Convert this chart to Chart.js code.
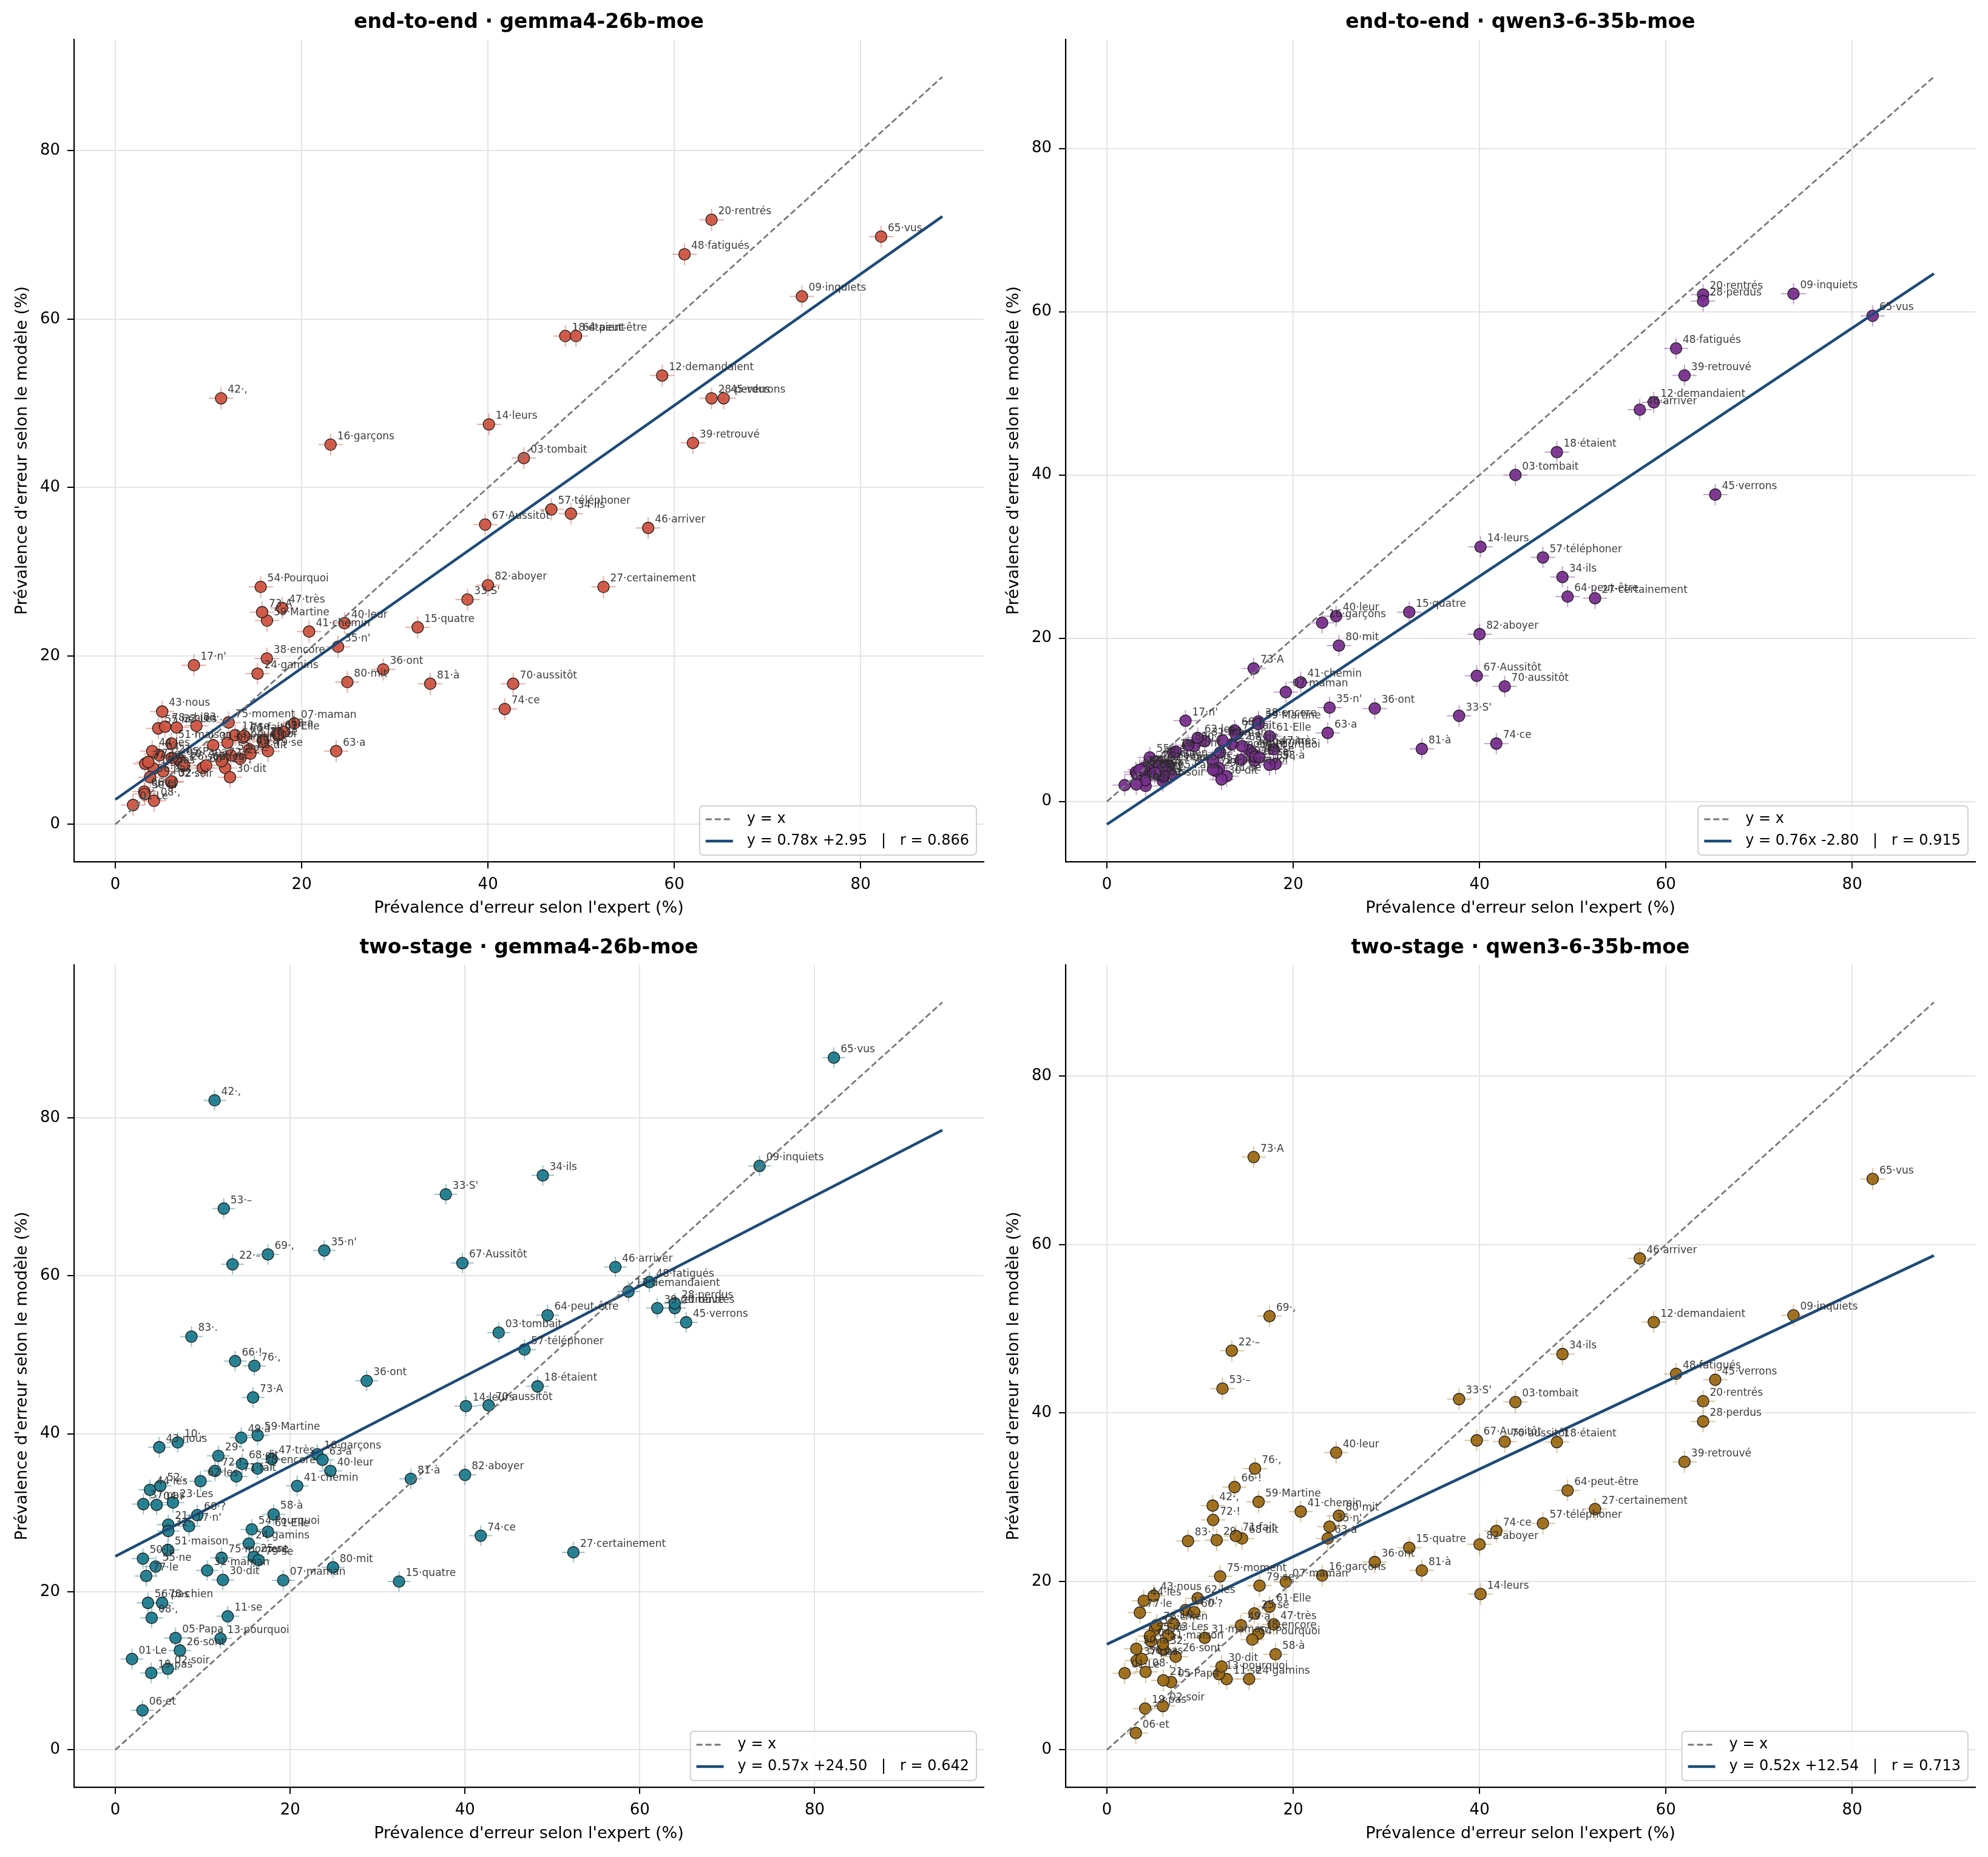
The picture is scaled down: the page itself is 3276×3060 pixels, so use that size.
<!DOCTYPE html>
<html>
<head>
<meta charset="utf-8">
<script src="https://cdn.jsdelivr.net/npm/chart.js@4.4.1/dist/chart.umd.min.js"></script>
<style>
  html, body { margin: 0; padding: 0; background: #fff; }
  #wrap { position: relative; width: 3276px; height: 3060px; }
  .panel { position: absolute; width: 1638px; height: 1530px; }
</style>
</head>
<body>
<div id="wrap">
  <div class="panel" style="left:0;top:0"><canvas id="c0" width="1638" height="1530"></canvas></div>
  <div class="panel" style="left:1634px;top:0"><canvas id="c1" width="1638" height="1530"></canvas></div>
  <div class="panel" style="left:0;top:1525px"><canvas id="c2" width="1638" height="1530"></canvas></div>
  <div class="panel" style="left:1634px;top:1525px"><canvas id="c3" width="1638" height="1530"></canvas></div>
</div>
<script>
// Tokens of the passage (index = position in the text)
const WORDS = ['Le', 'soir', 'tombait', '.', 'Papa', 'et', 'maman', ',', 'inquiets', ',',
  'se', 'demandaient', 'pourquoi', 'leurs', 'quatre', 'garçons', "n'", 'étaient', 'pas', 'rentrés',
  '.', '–', 'Les', 'gamins', 'se', 'sont', 'certainement', 'perdus', ',', 'dit',
  'maman', '.', "S'", 'ils', "n'", 'ont', 'pas', 'encore', 'retrouvé', 'leur',
  'chemin', ',', 'nous', 'les', 'verrons', 'arriver', 'très', 'fatigués', 'à', 'la',
  'maison', '.', '–', 'Pourquoi', 'ne', 'pas', 'téléphoner', 'à', 'Martine', '?',
  'Elle', 'les', 'a', 'peut-être', 'vus', '!', 'Aussitôt', 'dit', ',', 'aussitôt',
  'fait', '!', 'A', 'ce', 'moment', ',', 'le', 'chien', 'se', 'mit',
  'à', 'aboyer', '.'];

// Expert error prevalence (%), shared x values
const EXPERT = [1.9, 6.0, 43.85, 4.72, 6.88, 3.1, 19.2, 4.15, 73.7, 7.13,
  12.85, 58.7, 12.03, 40.1, 32.45, 23.1, 8.43, 48.3, 4.1, 64.0,
  6.05, 13.4, 6.58, 15.26, 15.83, 7.38, 52.4, 64.0, 11.78, 12.3,
  10.5, 6.05, 37.8, 48.9, 23.9, 28.75, 3.2, 16.26, 62.0, 24.6,
  20.8, 11.35, 5.02, 3.95, 65.3, 57.2, 17.9, 61.1, 14.39, 3.15,
  6.01, 5.14, 12.4, 15.6, 4.6, 3.73, 46.8, 18.1, 16.28, 9.37,
  17.45, 9.74, 23.7, 49.45, 82.2, 13.7, 39.7, 14.5, 17.45, 42.7,
  13.84, 11.4, 15.75, 41.8, 12.15, 15.9, 3.53, 5.34, 16.38, 24.9,
  33.8, 40.0, 8.7];

// Model error prevalence (%), one list per panel
const E2E_GEMMA = [2.3, 5.0, 43.5, 8.2, 7.6, 3.9, 12.0, 2.8, 62.7, 7.3,
  10.6, 53.3, 9.7, 47.5, 23.4, 45.1, 18.9, 58.0, 6.6, 71.8,
  7.9, 7.8, 11.5, 17.9, 10.0, 7.0, 28.2, 50.6, 6.7, 5.6,
  9.4, 5.1, 26.7, 36.9, 21.1, 18.4, 7.2, 19.7, 45.3, 23.9,
  22.9, 50.6, 13.4, 8.7, 50.6, 35.2, 25.7, 67.7, 8.9, 3.6,
  9.6, 6.3, 8.2, 28.2, 11.4, 5.6, 37.4, 11.0, 24.2, 6.7,
  10.6, 7.0, 8.7, 58.0, 69.8, 10.3, 35.6, 8.4, 10.8, 16.7,
  10.5, 7.5, 25.2, 13.7, 12.1, 9.8, 7.4, 11.6, 8.7, 16.9,
  16.7, 28.4, 11.7];

const E2E_QWEN = [2.0, 2.5, 40.0, 4.0, 3.4, 3.6, 13.4, 1.9, 62.2, 6.0,
  3.1, 48.9, 4.1, 31.2, 23.2, 21.9, 9.9, 42.8, 2.6, 62.1,
  3.0, 7.0, 4.4, 6.3, 5.0, 6.1, 24.9, 61.3, 3.7, 2.7,
  7.4, 3.2, 10.5, 27.5, 11.5, 11.4, 3.3, 9.8, 52.2, 22.7,
  14.6, 5.0, 4.6, 4.1, 37.6, 48.0, 6.4, 55.5, 5.1, 2.1,
  4.4, 3.5, 7.5, 5.9, 5.4, 3.8, 29.9, 4.6, 9.5, 6.8,
  8.0, 7.8, 8.4, 25.1, 59.5, 8.7, 15.4, 6.8, 4.5, 14.1,
  8.2, 3.9, 16.3, 7.1, 6.0, 5.5, 3.9, 4.9, 5.4, 19.1,
  6.45, 20.5, 6.9];

const TWO_GEMMA = [11.5, 10.25, 52.8, 31.0, 14.16, 5.0, 21.45, 16.7, 73.9, 38.9,
  16.9, 58.0, 14.1, 43.5, 21.3, 37.4, 28.3, 46.0, 9.73, 55.9,
  28.5, 61.45, 31.3, 26.1, 24.4, 12.57, 25.0, 56.5, 37.2, 21.5,
  22.7, 27.7, 70.3, 72.7, 63.2, 46.7, 31.1, 35.6, 55.9, 35.3,
  33.4, 82.2, 38.3, 32.9, 54.1, 61.1, 36.8, 59.2, 39.5, 24.2,
  25.3, 33.4, 68.5, 27.9, 23.2, 18.6, 50.65, 29.8, 39.8, 29.7,
  27.6, 34.0, 36.7, 55.0, 87.6, 49.2, 61.6, 36.2, 62.7, 43.6,
  34.6, 35.3, 44.6, 27.1, 24.3, 48.6, 22.0, 18.6, 24.0, 23.1,
  34.3, 34.8, 52.3];

const TWO_QWEN = [9.1, 5.2, 41.3, 12.9, 8.05, 2.0, 19.95, 9.25, 51.6, 15.0,
  8.4, 50.8, 9.0, 18.5, 24.0, 20.7, 16.6, 36.55, 4.9, 41.4,
  8.25, 47.4, 13.6, 8.4, 16.2, 11.06, 28.6, 39.0, 24.9, 9.9,
  13.3, 11.9, 41.65, 47.0, 26.5, 22.3, 10.6, 13.8, 34.2, 35.3,
  28.3, 29.0, 18.3, 17.7, 43.95, 58.35, 14.9, 44.65, 14.8, 12.0,
  12.6, 14.3, 42.9, 13.1, 13.5, 10.8, 26.9, 11.35, 29.45, 16.35,
  17.0, 18.0, 25.1, 30.8, 67.8, 31.2, 36.75, 25.1, 51.5, 36.6,
  25.4, 27.3, 70.4, 26.0, 20.6, 33.4, 16.3, 14.8, 19.5, 27.8,
  21.3, 24.4, 24.8];

const TITLES = ['end-to-end · gemma4-26b-moe', 'end-to-end · qwen3-6-35b-moe',
  'two-stage · gemma4-26b-moe', 'two-stage · qwen3-6-35b-moe'];
const SLOPES = [0.78, 0.76, 0.57, 0.52];
const INTERCEPTS = [2.95, -2.80, 24.50, 12.54];
const R_VALUES = [0.866, 0.915, 0.642, 0.713];
const TICKS = [0, 20, 40, 60, 80];

const X_TITLE = "Prévalence d'erreur selon l'expert (%)";
const Y_TITLE = "Prévalence d'erreur selon le modèle (%)";

const FONT = "'DejaVu Sans', 'Liberation Sans', sans-serif";
const PANEL_Y = [E2E_GEMMA, E2E_QWEN, TWO_GEMMA, TWO_QWEN];
const FILLS = ['rgba(204,82,62,0.93)', 'rgba(118,44,140,0.93)', 'rgba(26,122,140,0.93)', 'rgba(154,103,16,0.93)'];
const ERR_COLORS = ['rgba(214,110,95,0.55)', 'rgba(150,90,170,0.55)', 'rgba(70,150,165,0.55)', 'rgba(190,150,80,0.55)'];
const ERR = 1.3; // half length of the error cross, style only

const labels = WORDS.map((w, i) => String(i + 1).padStart(2, '0') + '·' + w);

const decoPlugin = {
  id: 'deco',
  beforeDatasetsDraw(chart) {
    const o = chart.options.plugins.deco;
    const { ctx, chartArea } = chart;
    const sx = chart.scales.x, sy = chart.scales.y;
    ctx.save();
    ctx.beginPath();
    ctx.rect(chartArea.left, chartArea.top, chartArea.right - chartArea.left, chartArea.bottom - chartArea.top);
    ctx.clip();
    ctx.strokeStyle = o.errColor;
    ctx.lineWidth = 2;
    EXPERT.forEach((xv, i) => {
      const yv = o.ys[i];
      const px = sx.getPixelForValue(xv), py = sy.getPixelForValue(yv);
      ctx.beginPath();
      ctx.moveTo(sx.getPixelForValue(xv - ERR), py);
      ctx.lineTo(sx.getPixelForValue(xv + ERR), py);
      ctx.moveTo(px, sy.getPixelForValue(yv - ERR));
      ctx.lineTo(px, sy.getPixelForValue(yv + ERR));
      ctx.stroke();
    });
    ctx.restore();
  },
  afterDatasetsDraw(chart) {
    const o = chart.options.plugins.deco;
    const { ctx } = chart;
    const sx = chart.scales.x, sy = chart.scales.y;
    ctx.save();
    ctx.font = '17px ' + FONT;
    ctx.fillStyle = 'rgba(45,45,45,0.92)';
    ctx.textAlign = 'left';
    ctx.textBaseline = 'alphabetic';
    EXPERT.forEach((xv, i) => {
      const px = sx.getPixelForValue(xv), py = sy.getPixelForValue(o.ys[i]);
      ctx.fillText(labels[i], px + 11, py - 9);
    });
    ctx.restore();
  },
  afterDraw(chart) {
    const o = chart.options.plugins.deco;
    const { ctx, chartArea: ca } = chart;
    ctx.save();
    // title
    ctx.fillStyle = '#000';
    ctx.font = 'bold 33px ' + FONT;
    ctx.textAlign = 'center';
    ctx.textBaseline = 'middle';
    ctx.fillText(o.title, (ca.left + ca.right) / 2, 37);
    // axis titles
    ctx.font = '27px ' + FONT;
    ctx.fillText(X_TITLE, (ca.left + ca.right) / 2, 1497);
    ctx.save();
    ctx.translate(37, (ca.top + ca.bottom) / 2);
    ctx.rotate(-Math.PI / 2);
    ctx.fillText(Y_TITLE, 0, 0);
    ctx.restore();
    // legend
    ctx.font = '24px ' + FONT;
    const t1 = 'y = x';
    const t2 = o.fitText;
    const tw = Math.max(ctx.measureText(t1).width, ctx.measureText(t2).width);
    const bw = tw + 90, bh = 81;
    const bx = ca.right - 12 - bw, by = ca.bottom - 11 - bh;
    ctx.beginPath();
    ctx.roundRect(bx, by, bw, bh, 6);
    ctx.fillStyle = 'rgba(255,255,255,0.85)';
    ctx.fill();
    ctx.strokeStyle = '#d0d0d0';
    ctx.lineWidth = 2;
    ctx.stroke();
    const r1 = by + 22, r2 = by + 58;
    ctx.strokeStyle = '#777';
    ctx.lineWidth = 2.8;
    ctx.setLineDash([10, 5]);
    ctx.beginPath(); ctx.moveTo(bx + 10, r1); ctx.lineTo(bx + 55, r1); ctx.stroke();
    ctx.setLineDash([]);
    ctx.strokeStyle = '#1d4a78';
    ctx.lineWidth = 4.5;
    ctx.beginPath(); ctx.moveTo(bx + 10, r2); ctx.lineTo(bx + 55, r2); ctx.stroke();
    ctx.fillStyle = '#000';
    ctx.textAlign = 'left';
    ctx.fillText(t1, bx + 78, r1);
    ctx.fillText(t2, bx + 78, r2);
    ctx.restore();
  }
};

function makePanel(k) {
  const ys = PANEL_Y[k];
  const a = SLOPES[k], b = INTERCEPTS[k];
  const L = 1.08 * Math.max(...EXPERT, ...ys);
  const ylo = Math.min(0, b, ...ys);
  const xpad = 0.05 * L, ypad = 0.05 * (L - ylo);
  const fitText = 'y = ' + a.toFixed(2) + 'x ' + (b >= 0 ? '+' : '') + b.toFixed(2) + '   |   r = ' + R_VALUES[k].toFixed(3);

  const axisCommon = {
    type: 'linear',
    grid: { color: '#e4e4e4', lineWidth: 2, tickColor: '#000', tickLength: 11, tickWidth: 2 },
    border: { display: true, color: '#000', width: 2.2 },
    afterBuildTicks: s => { s.ticks = TICKS.map(v => ({ value: v })); }
  };

  new Chart(document.getElementById('c' + k), {
    data: {
      datasets: [
        {
          type: 'line', label: 'y = x', order: 1,
          data: [{ x: 0, y: 0 }, { x: L, y: L }],
          borderColor: '#777', borderWidth: 2.8, borderDash: [10, 5],
          pointRadius: 0, fill: false
        },
        {
          type: 'line', label: 'fit', order: 2,
          data: [{ x: 0, y: b }, { x: L, y: a * L + b }],
          borderColor: '#1d4a78', borderWidth: 4.5,
          pointRadius: 0, fill: false
        },
        {
          type: 'scatter', label: 'tokens', order: 3,
          data: EXPERT.map((xv, i) => ({ x: xv, y: ys[i] })),
          backgroundColor: FILLS[k], borderColor: '#1a1a1a', borderWidth: 1.3,
          pointRadius: 9.5
        }
      ]
    },
    options: {
      responsive: false,
      devicePixelRatio: 1,
      animation: false,
      layout: { padding: { top: 65, right: 17, left: 0, bottom: 0 } },
      plugins: {
        legend: { display: false },
        tooltip: { enabled: false },
        deco: { ys: ys, title: TITLES[k], fitText: fitText, errColor: ERR_COLORS[k] }
      },
      scales: {
        x: Object.assign({}, axisCommon, {
          position: 'bottom',
          min: -xpad, max: L + xpad,
          ticks: { font: { family: FONT, size: 26 }, color: '#000', padding: 12, maxRotation: 0 },
          afterFit: s => { s.height = 110; }
        }),
        y: Object.assign({}, axisCommon, {
          position: 'left',
          min: ylo - ypad, max: L + ypad,
          ticks: { font: { family: FONT, size: 26 }, color: '#000', padding: 12 },
          afterFit: s => { s.width = 122; }
        })
      }
    },
    plugins: [decoPlugin]
  });
}

[0, 1, 2, 3].forEach(makePanel);
</script>
</body>
</html>
